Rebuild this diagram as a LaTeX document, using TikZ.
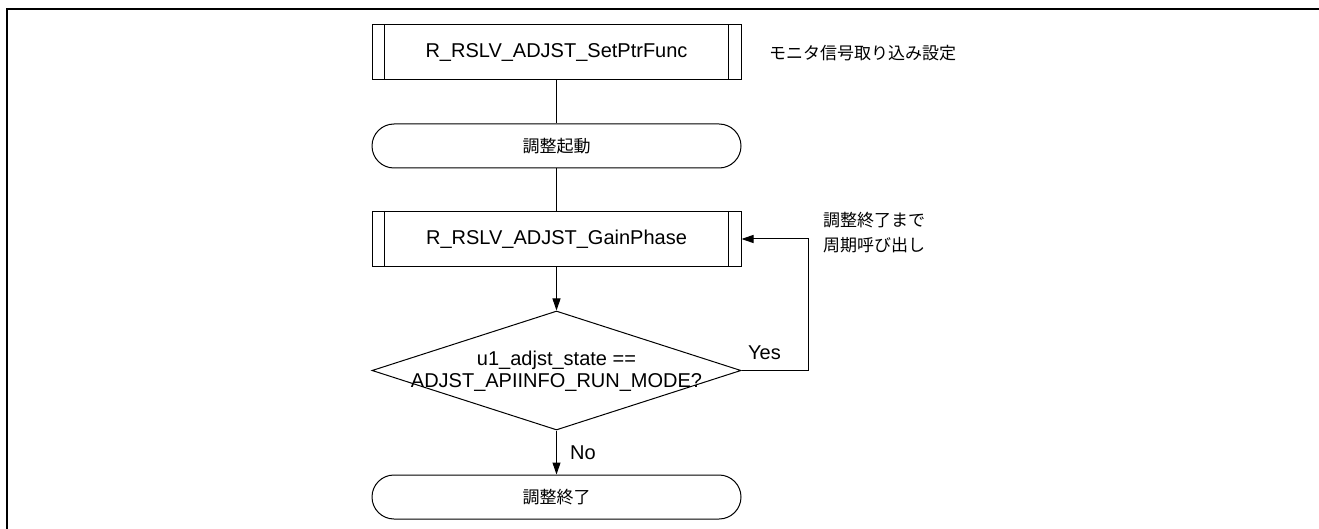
\documentclass[tikz,border=0pt]{standalone}
\usepackage{fontspec}
\setmainfont{Liberation Sans}
\newfontfamily\jp{Noto Sans CJK JP}
\usetikzlibrary{shapes.geometric,arrows.meta}
\tikzset{
  procbox/.style={draw, line width=1pt, minimum width=369pt, minimum height=55pt, inner sep=0pt, font=\fontsize{20}{22}\selectfont},
  termbox/.style={draw, line width=1pt, rounded corners=22pt, minimum width=369pt, minimum height=44pt, inner sep=0pt, font=\jp\fontsize{17}{20}\selectfont},
  decbox/.style={draw, diamond, line width=1pt, minimum width=369pt, minimum height=119pt, inner sep=0pt},
  conn/.style={line width=1pt},
  arr/.style={line width=1pt, -{Triangle[length=12pt,width=8pt]}},
  lat/.style={font=\fontsize{20}{22}\selectfont, inner sep=0pt},
  jpnote/.style={font=\jp\fontsize{17}{25}\selectfont, inner sep=0pt, align=left},
}
\begin{document}
\begin{tikzpicture}[x=1pt,y=-1pt]
\useasboundingbox (0,0) rectangle (1319,529);
\draw[line width=2.5pt] (7,529) -- (7,9) -- (1319,9);

\node[procbox] (b1) at (556.5,52.5) {R\_RSLV\_ADJST\_SetPtrFunc};
\draw[conn] ([xshift=13pt]b1.north west) -- ([xshift=13pt]b1.south west);
\draw[conn] ([xshift=-13pt]b1.north east) -- ([xshift=-13pt]b1.south east);

\node[termbox] (t1) at (556.5,146) {調整起動};

\node[procbox] (b2) at (556.5,239) {R\_RSLV\_ADJST\_GainPhase};
\draw[conn] ([xshift=13pt]b2.north west) -- ([xshift=13pt]b2.south west);
\draw[conn] ([xshift=-13pt]b2.north east) -- ([xshift=-13pt]b2.south east);

\node[decbox] (d) at (556.5,370.5) {};
\node[lat, align=center] (dt) at (556.5,371) {u1\_adjst\_state ==\\ADJST\_APIINFO\_RUN\_MODE?};

\node[termbox] (t2) at (556.5,497) {調整終了};

\node[jpnote, anchor=west] (n1) at (769,53) {モニタ信号取り込み設定};
\node[jpnote, anchor=west] (n2) at (823,232.5) {調整終了まで\\周期呼び出し};
\node[lat, anchor=west] (yes) at (748,353) {Yes};
\node[lat, anchor=west] (no) at (570,453) {No};

\coordinate (lp) at (808,0);
\draw[conn] (b1) -- (t1);
\draw[conn] (t1) -- (b2);
\draw[arr] (b2) -- (d);
\draw[arr] (d) -- (t2);
\draw[arr] (d.east) -- (d.east -| lp) |- (b2.east);
\end{tikzpicture}
\end{document}
